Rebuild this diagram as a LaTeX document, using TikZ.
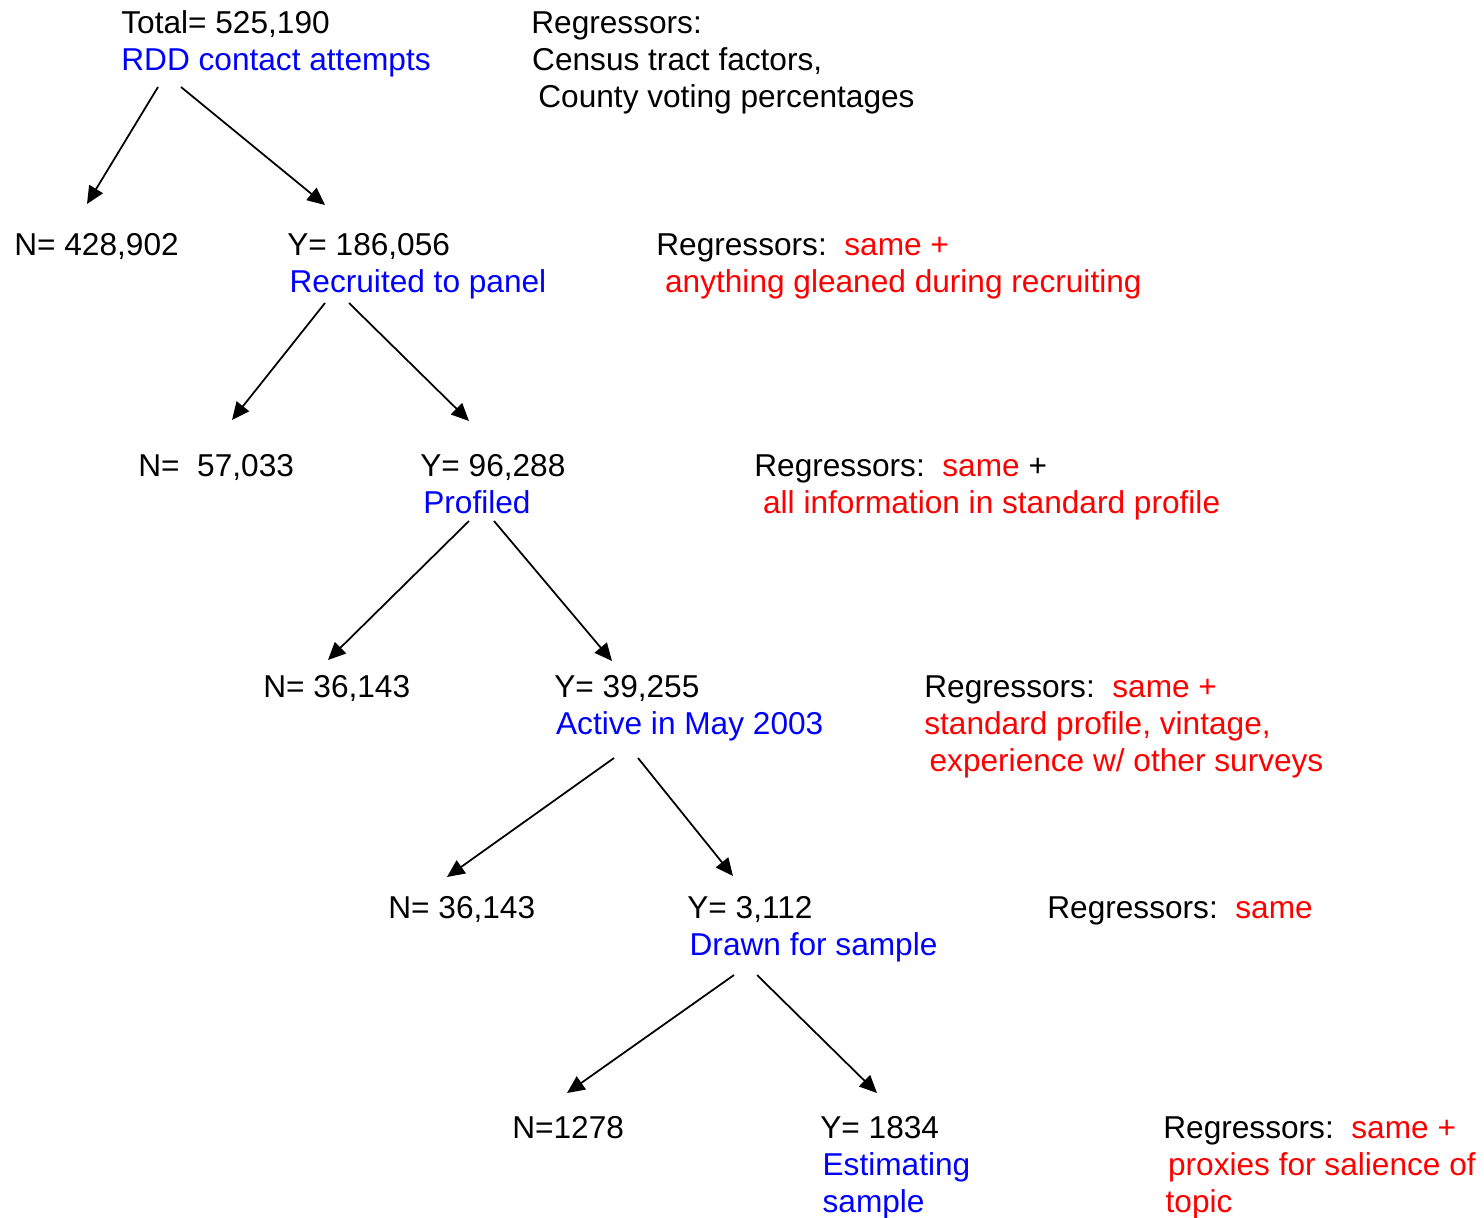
\documentclass[tikz,border=0pt]{standalone}
\usepackage{fontspec}
\setmainfont{Liberation Sans}
\usetikzlibrary{arrows.meta}

\tikzset{
  txt/.style={anchor=base west, inner sep=0pt, align=left, font=\fontsize{18}{21}\selectfont},
  arr/.style={line width=1pt, -{Triangle[length=10pt, width=9pt]}}
}
\newcommand{\lab}[1]{\textcolor{blue}{#1}}
\newcommand{\add}[1]{\textcolor{red}{#1}}

\begin{document}
\begin{tikzpicture}[x=0.02cm, y=-0.02cm]
  \useasboundingbox (0,0) rectangle (1484,1217);

  % counts at each stage (placed at the baseline of the last line)
  \node[txt] (tot) at (121,70) {Total= 525,190\\\lab{RDD contact attempts}};
  \node[txt] (n1) at (14,255) {N= 428,902};
  \node[txt] (y1) at (287,292) {Y= 186,056\\\hspace{1.3pt}\lab{Recruited to panel}};
  \node[txt] (n2) at (138,476) {N=\ \ 57,033};
  \node[txt] (y2) at (420,513) {Y= 96,288\\\hspace{1.7pt}\lab{Profiled}};
  \node[txt] (n3) at (263,697) {N= 36,143};
  \node[txt] (y3) at (554,734) {Y= 39,255\\\hspace{1pt}\lab{Active in May 2003}};
  \node[txt] (n4) at (388,918) {N= 36,143};
  \node[txt] (y4) at (687,955) {Y= 3,112\\\hspace{1.3pt}\lab{Drawn for sample}};
  \node[txt] (n5) at (512,1138) {N=1278};
  \node[txt] (y5) at (820,1212) {Y= 1834\\\hspace{1.3pt}\lab{Estimating}\\\hspace{1.3pt}\lab{sample}};

  % regressors used at each stage
  \node[txt] (r0) at (531,107) {Regressors:\\\hspace{0.5pt}Census tract factors,\\\hspace{4pt}County voting percentages};
  \node[txt] (r1) at (656,292) {Regressors:\ \ \add{same +}\\\hspace{5pt}\add{anything gleaned during recruiting}};
  \node[txt] (r2) at (754,513) {Regressors:\ \ \add{same} +\\\hspace{5pt}\add{all information in standard profile}};
  \node[txt] (r3) at (924,771) {Regressors:\ \ \add{same +}\\\add{standard profile, vintage,}\\\hspace{3pt}\add{experience w/ other surveys}};
  \node[txt] (r4) at (1047,918) {Regressors:\ \ \add{same}};
  \node[txt] (r5) at (1163,1212) {Regressors:\ \ \add{same +}\\\hspace{2.7pt}\add{proxies for salience of}\\\hspace{1.3pt}\add{topic}};

  % splits
  \draw[arr] ([shift={(37,17)}]tot.base west) -- ([shift={(73,-51)}]n1.base west);
  \draw[arr] ([shift={(60,17)}]tot.base west) -- ([shift={(38,-87)}]y1.base west);
  \draw[arr] ([shift={(38,11)}]y1.base west) -- ([shift={(94,-56)}]n2.base west);
  \draw[arr] ([shift={(62,11)}]y1.base west) -- ([shift={(49,-92)}]y2.base west);
  \draw[arr] ([shift={(49,8)}]y2.base west) -- ([shift={(65,-37)}]n3.base west);
  \draw[arr] ([shift={(74,8)}]y2.base west) -- ([shift={(58,-73)}]y3.base west);
  \draw[arr] ([shift={(60,24)}]y3.base west) -- ([shift={(59,-41)}]n4.base west);
  \draw[arr] ([shift={(84,24)}]y3.base west) -- ([shift={(46,-79)}]y4.base west);
  \draw[arr] ([shift={(47,20)}]y4.base west) -- ([shift={(55,-45)}]n5.base west);
  \draw[arr] ([shift={(70,20)}]y4.base west) -- ([shift={(57,-119)}]y5.base west);
\end{tikzpicture}
\end{document}
